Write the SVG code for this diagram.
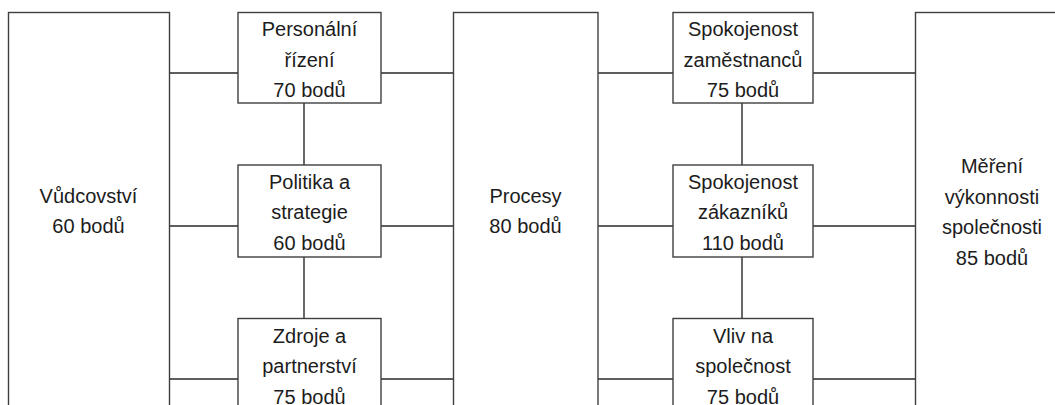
<svg xmlns="http://www.w3.org/2000/svg" width="1055" height="405" viewBox="0 0 1055 405">
<style>
.box{fill:#fff;stroke:#3f3f3f;stroke-width:1.4}
.ln{stroke:#2a2a2a;stroke-width:1.4;fill:none}
text{font-family:"Liberation Sans",Arial,sans-serif;font-size:20px;fill:#1c1c1c;text-anchor:middle}
</style>
<rect x="0" y="0" width="1055" height="405" fill="#fff"/>
<g id="connectors">
<path class="ln" d="M169,73H238M381,73H453M598,73H673M813,73H915"/>
<path class="ln" d="M169,226H238M381,226H453M598,226H673M813,226H915"/>
<path class="ln" d="M169,379H238M381,379H453M598,379H673M813,379H915"/>
<path class="ln" d="M304,103V165M304,257V318M742,103V165M742,257V318"/>
</g>
<g id="vudcovstvi">
<rect class="box" x="8.5" y="12.5" width="161" height="440"/>
<text x="88.5" y="203">Vůdcovství</text>
<text x="88.5" y="233">60 bodů</text>
</g>
<g id="personalni">
<rect class="box" x="238" y="12.5" width="143" height="90.5"/>
<text x="309.5" y="36">Personální</text>
<text x="309.5" y="66.5">řízení</text>
<text x="309.5" y="97">70 bodů</text>
</g>
<g id="politika">
<rect class="box" x="238" y="165" width="143" height="92"/>
<text x="309.5" y="188.5">Politika a</text>
<text x="309.5" y="219">strategie</text>
<text x="309.5" y="249.5">60 bodů</text>
</g>
<g id="zdroje">
<rect class="box" x="238" y="318.5" width="143" height="120"/>
<text x="309.5" y="342.5">Zdroje a</text>
<text x="309.5" y="373">partnerství</text>
<text x="309.5" y="403.5">75 bodů</text>
</g>
<g id="procesy">
<rect class="box" x="453.5" y="12.5" width="144.5" height="440"/>
<text x="525.5" y="203">Procesy</text>
<text x="525.5" y="233">80 bodů</text>
</g>
<g id="spokojenost-zam">
<rect class="box" x="673" y="12.5" width="140" height="90.5"/>
<text x="743" y="36">Spokojenost</text>
<text x="743" y="66.5">zaměstnanců</text>
<text x="743" y="97">75 bodů</text>
</g>
<g id="spokojenost-zak">
<rect class="box" x="673" y="165" width="140" height="92"/>
<text x="743" y="188.5">Spokojenost</text>
<text x="743" y="219">zákazníků</text>
<text x="743" y="249.5">110 bodů</text>
</g>
<g id="vliv">
<rect class="box" x="673" y="318.5" width="140" height="120"/>
<text x="743" y="342.5">Vliv na</text>
<text x="743" y="373">společnost</text>
<text x="743" y="403.5">75 bodů</text>
</g>
<g id="mereni">
<rect class="box" x="915.5" y="12.5" width="160" height="440"/>
<text x="992" y="173">Měření</text>
<text x="992" y="203.5">výkonnosti</text>
<text x="992" y="234">společnosti</text>
<text x="992" y="264.5">85 bodů</text>
</g>
</svg>
